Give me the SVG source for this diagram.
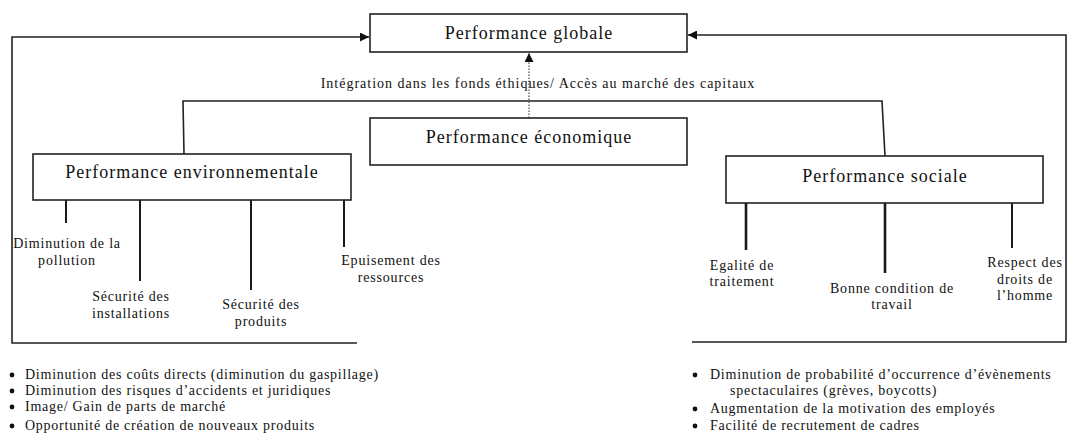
<svg xmlns="http://www.w3.org/2000/svg" width="1068" height="434" viewBox="0 0 1068 434">
  <style>
    .box { fill: #ffffff; stroke: #222222; stroke-width: 1.6; }
    .title { font-family: "Liberation Serif", "Times New Roman", serif; font-size: 18px; letter-spacing: 1px; fill: #111111; text-anchor: middle; }
    .lbl { font-family: "Liberation Serif", "Times New Roman", serif; font-size: 14px; letter-spacing: 0.8px; fill: #111111; text-anchor: middle; }
    .item { font-family: "Liberation Serif", "Times New Roman", serif; font-size: 14px; letter-spacing: 0.75px; fill: #111111; }
    .wire { fill: none; stroke: #222222; stroke-width: 1.6; }
    .leg { fill: none; stroke: #1a1a1a; stroke-width: 2; }
    .dots { fill: none; stroke: #666666; stroke-width: 1.4; stroke-dasharray: 1.5 1.5; }
    .bullet { fill: #111111; }
  </style>
  <defs>
    <marker id="head" viewBox="0 0 10 10" refX="10" refY="5" markerWidth="10" markerHeight="9" markerUnits="userSpaceOnUse" orient="auto">
      <path d="M0,0 L10,5 L0,10 Z" fill="#111111"/>
    </marker>
  </defs>

  <rect width="1068" height="434" fill="#ffffff"/>

  <!-- connectors -->
  <g id="connectors">
    <!-- environmental feedback loop into global performance -->
    <polyline class="wire" points="357,343 12,343 12,37 369,37" marker-end="url(#head)"/>
    <!-- social feedback loop into global performance -->
    <polyline class="wire" points="692,342 1066,342 1066,35 688,35" marker-end="url(#head)"/>
    <!-- bar linking environmental and social performance -->
    <polyline class="wire" points="184,154 183,101 882,101 885,156"/>
    <!-- economic to global (dotted) -->
    <line class="dots" x1="529" y1="118" x2="529" y2="53" marker-end="url(#head)"/>
    <!-- environmental legs -->
    <line class="leg" x1="66" y1="200" x2="66" y2="223"/>
    <line class="leg" x1="140" y1="200" x2="140" y2="281"/>
    <line class="leg" x1="251" y1="200" x2="251" y2="290"/>
    <line class="leg" x1="344" y1="200" x2="344" y2="247"/>
    <!-- social legs -->
    <line class="leg" x1="746" y1="203" x2="746" y2="250" style="stroke-width:2.6"/>
    <line class="leg" x1="885" y1="203" x2="885" y2="273" style="stroke-width:2.6"/>
    <line class="leg" x1="1012" y1="203" x2="1012" y2="248"/>
  </g>

  <text class="lbl" x="538" y="88" style="letter-spacing:1px">Intégration dans les fonds éthiques/ Accès au marché des capitaux</text>

  <g id="perf-globale">
    <rect class="box" x="370" y="14" width="317" height="38"/>
    <text class="title" x="529" y="39">Performance globale</text>
  </g>

  <g id="perf-economique">
    <rect class="box" x="370" y="118" width="317" height="47"/>
    <text class="title" x="529" y="143">Performance économique</text>
  </g>

  <g id="perf-environnementale">
    <rect class="box" x="33" y="154" width="318" height="46"/>
    <text class="title" x="192" y="178">Performance environnementale</text>
  </g>

  <g id="perf-sociale">
    <rect class="box" x="726" y="156" width="317" height="47"/>
    <text class="title" x="885" y="182">Performance sociale</text>
  </g>

  <g id="env-pollution">
    <text class="lbl" x="67" y="248">Diminution de la</text>
    <text class="lbl" x="67" y="265">pollution</text>
  </g>
  <g id="env-installations">
    <text class="lbl" x="131" y="301">Sécurité des</text>
    <text class="lbl" x="131" y="318">installations</text>
  </g>
  <g id="env-produits">
    <text class="lbl" x="261" y="309">Sécurité des</text>
    <text class="lbl" x="261" y="326">produits</text>
  </g>
  <g id="env-ressources">
    <text class="lbl" x="391" y="265">Epuisement des</text>
    <text class="lbl" x="391" y="282">ressources</text>
  </g>

  <g id="soc-egalite">
    <text class="lbl" x="742" y="270">Egalité de</text>
    <text class="lbl" x="742" y="286">traitement</text>
  </g>
  <g id="soc-travail">
    <text class="lbl" x="892" y="293">Bonne condition de</text>
    <text class="lbl" x="892" y="309">travail</text>
  </g>
  <g id="soc-droits">
    <text class="lbl" x="1025" y="267">Respect des</text>
    <text class="lbl" x="1025" y="284">droits de</text>
    <text class="lbl" x="1025" y="300">l’homme</text>
  </g>

  <g id="env-benefits">
    <circle class="bullet" cx="12" cy="375" r="2.4"/>
    <text class="item" x="25" y="379">Diminution des coûts directs (diminution du gaspillage)</text>
    <circle class="bullet" cx="12" cy="391" r="2.4"/>
    <text class="item" x="25" y="395">Diminution des risques d’accidents et juridiques</text>
    <circle class="bullet" cx="12" cy="407" r="2.4"/>
    <text class="item" x="25" y="411">Image/ Gain de parts de marché</text>
    <circle class="bullet" cx="12" cy="426" r="2.4"/>
    <text class="item" x="25" y="430">Opportunité de création de nouveaux produits</text>
  </g>

  <g id="soc-benefits">
    <circle class="bullet" cx="695" cy="375" r="2.4"/>
    <text class="item" x="710" y="379">Diminution de probabilité d’occurrence d’évènements</text>
    <text class="item" x="730" y="395">spectaculaires (grèves, boycotts)</text>
    <circle class="bullet" cx="695" cy="409" r="2.4"/>
    <text class="item" x="710" y="413">Augmentation de la motivation des employés</text>
    <circle class="bullet" cx="695" cy="426" r="2.4"/>
    <text class="item" x="710" y="430">Facilité de recrutement de cadres</text>
  </g>
</svg>
